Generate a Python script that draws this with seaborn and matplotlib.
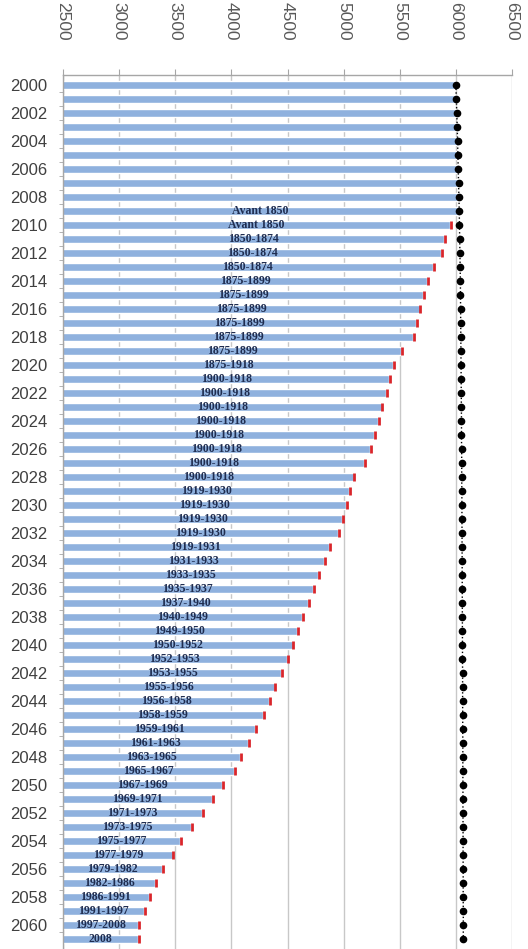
import numpy as np
import pandas as pd
import matplotlib
matplotlib.use('Agg')
import matplotlib.pyplot as plt
import seaborn as sns

sns.set_style('white')
plt.rcParams['font.family'] = ['Liberation Sans', 'DejaVu Sans']

years = list(range(2000, 2062))

# bar length (bar starts at the axis minimum 2500)
bar_values = [5995, 5999, 6003, 6007, 6010, 6013, 6016, 6019, 6022, 6015,
              5947, 5897, 5868, 5794, 5744, 5706, 5676, 5647, 5618, 5515,
              5441, 5406, 5374, 5338, 5309, 5274, 5238, 5185, 5088, 5050,
              5021, 4985, 4950, 4868, 4822, 4770, 4725, 4680, 4626, 4584,
              4545, 4494, 4446, 4385, 4338, 4279, 4212, 4147, 4079, 4024,
              3918, 3830, 3735, 3641, 3544, 3476, 3382, 3324, 3265, 3221,
              3168, 3168]

# black dotted series
dot_values = [6000, 6004, 6008, 6012, 6015, 6018, 6021, 6024, 6027, 6030,
              6032, 6034, 6036, 6038, 6040, 6041, 6042, 6043, 6044, 6045,
              6046, 6047, 6048, 6049, 6050, 6050, 6051, 6052, 6052, 6053,
              6054, 6054, 6055, 6055, 6056, 6056, 6057, 6057, 6058, 6058,
              6059, 6059, 6060, 6060, 6060, 6061, 6061, 6062, 6062, 6062,
              6063, 6063, 6063, 6064, 6064, 6064, 6065, 6065, 6065, 6066,
              6066, 6066]

periods = [''] * 9 + [
    'Avant 1850', 'Avant 1850',
    '1850-1874', '1850-1874', '1850-1874',
    '1875-1899', '1875-1899', '1875-1899', '1875-1899', '1875-1899', '1875-1899',
    '1875-1918',
    '1900-1918', '1900-1918', '1900-1918', '1900-1918',
    '1900-1918', '1900-1918', '1900-1918', '1900-1918',
    '1919-1930', '1919-1930', '1919-1930', '1919-1930',
    '1919-1931', '1931-1933', '1933-1935', '1935-1937', '1937-1940',
    '1940-1949', '1949-1950', '1950-1952', '1952-1953', '1953-1955',
    '1955-1956', '1956-1958', '1958-1959', '1959-1961', '1961-1963',
    '1963-1965', '1965-1967', '1967-1969', '1969-1971', '1971-1973',
    '1973-1975', '1975-1977', '1977-1979', '1979-1982', '1982-1986',
    '1986-1991', '1991-1997', '1997-2008', '2008']

red_start = 10  # first row with a red end marker

XMIN, XMAX = 2500, 6500

df = pd.DataFrame({'year': [str(y) for y in years], 'value': bar_values})
pos = np.arange(len(years))

fig = plt.figure(figsize=(5.28, 9.49), dpi=100)
ax = fig.add_axes([63 / 528, 0.0, (512 - 63) / 528, (949 - 75) / 949])

sns.barplot(data=df, x='value', y='year', color='#8FB1DE', saturation=1,
            width=0.6, ax=ax, zorder=2)

ax.plot(dot_values, pos, linestyle=':', color='black', lw=1,
        marker='o', markersize=4.5, zorder=4)
ax.plot(np.array(bar_values[red_start:]) + 8, pos[red_start:], linestyle='none',
        marker='|', markersize=5.5, markeredgewidth=2, color='#D9262B', zorder=3)

for i, lab in enumerate(periods):
    if lab:
        ax.text((XMIN + bar_values[i]) / 2, i, lab, ha='center', va='center',
                fontsize=8.5, family='Liberation Serif', weight='bold',
                color='#1F2D50', zorder=5)

ax.set_xlim(XMIN, XMAX)
ax.set_ylim(61.71, -0.71)

ax.xaxis.tick_top()
ax.set_xticks(range(XMIN, XMAX + 1, 500))
ax.set_xticklabels([str(v) for v in range(XMIN, XMAX + 1, 500)], rotation=-90,
                   fontsize=12.5, color='#595959')
ax.tick_params(axis='x', which='major', top=True, length=4, color='#A6A6A6', pad=21)
ax.xaxis.grid(True, color='#C8C8C8', lw=1)
ax.set_axisbelow(True)

ax.set_yticks(pos[::2])
ax.set_yticklabels([str(y) for y in years[::2]], fontsize=12, color='#404040')
ax.set_yticks(np.arange(0.5, 61.5, 1), minor=True)
ax.tick_params(axis='y', which='major', length=0, pad=11)
ax.tick_params(axis='y', which='minor', left=True, length=3, color='#A6A6A6')

for side in ['right', 'bottom']:
    ax.spines[side].set_visible(False)
for side in ['top', 'left']:
    ax.spines[side].set_color('#A6A6A6')
    ax.spines[side].set_linewidth(1)

ax.set_xlabel('')
ax.set_ylabel('')

fig.savefig('out.png', dpi=100)
